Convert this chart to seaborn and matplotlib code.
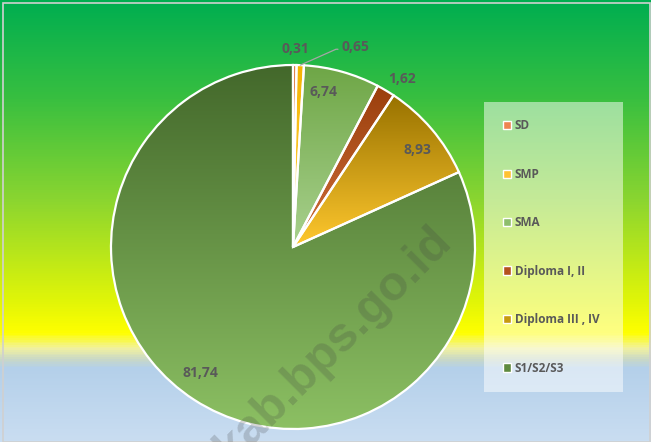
import numpy as np
import matplotlib
matplotlib.use('Agg')
import matplotlib.pyplot as plt
import seaborn as sns
from matplotlib.patches import Patch, Rectangle
from matplotlib.colors import LinearSegmentedColormap

# data
categories = ['SD', 'SMP', 'SMA', 'Diploma I, II', 'Diploma III , IV', 'S1/S2/S3']
values = [0.31, 0.65, 6.74, 1.62, 8.93, 81.74]
value_labels = ['0,31', '0,65', '6,74', '1,62', '8,93', '81,74']

# gradient colours per slice (top -> bottom)
slice_top = ['#D9641C', '#F5B400', '#6EA646', '#9A3E0C', '#987200', '#43682B']
slice_bottom = ['#F4A56E', '#FFD54F', '#A9D18E', '#D0703A', '#FFC82E', '#8CC063']
legend_colors = ['#EE8450', '#FFC232', '#8DBE6C', '#B4521E', '#C79A10', '#5E8A3E']

sns.set_theme(style='white')
plt.rcParams['font.family'] = ['Open Sans', 'DejaVu Sans']

W, H = 651, 442
fig = plt.figure(figsize=(W / 100, H / 100), dpi=100)

# background gradient
bg = fig.add_axes([0, 0, 1, 1])
bg_cmap = LinearSegmentedColormap.from_list('bg', [
    (0.0, '#00AE50'), (0.22, '#38BF40'), (0.45, '#8AD530'), (0.68, '#E0F508'),
    (0.755, '#FFFF00'), (0.79, '#F2F2A0'), (0.815, '#C8D8C8'), (0.835, '#B4D0EA'),
    (1.0, '#C9DDF1')])
bg.imshow(np.linspace(0, 1, 442).reshape(-1, 1), cmap=bg_cmap, aspect='auto',
          extent=[0, 1, 0, 1], origin='upper')
bg.add_patch(Rectangle((0.005, 0.0), 0.994, 0.993, fill=False, edgecolor='#D0D0D0',
                       linewidth=1.2, transform=bg.transAxes))
bg.set_xlim(0, 1)
bg.set_ylim(0, 1)
bg.axis('off')

# pie
cx, cy, r = 293, 247, 182
ax = fig.add_axes([(cx - r) / W, (H - cy - r) / H, 2 * r / W, 2 * r / H])
wedges, _ = ax.pie(values, startangle=90, counterclock=False, radius=1,
                   wedgeprops=dict(facecolor='none', edgecolor='white', linewidth=1.6, zorder=3))
for w, c0, c1 in zip(wedges, slice_top, slice_bottom):
    bb = w.get_path().get_extents()
    cm = sns.blend_palette([c0, c1], as_cmap=True)
    im = ax.imshow(np.linspace(0, 1, 256).reshape(-1, 1), cmap=cm, aspect='auto',
                   extent=[bb.x0, bb.x1, bb.y0, bb.y1], origin='upper', zorder=2)
    im.set_clip_path(w)
ax.set_xlim(-1, 1)
ax.set_ylim(-1, 1)
ax.set_aspect('equal')
ax.axis('off')

# data labels
label_r = [1.09, 1.15, 0.87, 1.1, 0.87, 0.86]
label_dang = [0, -15, 4.5, -2.4, -2.4, -3.6]
lab_kw = dict(fontsize=10, fontweight='bold', color='#595959', ha='center', va='center')
for i, w in enumerate(wedges):
    mid = (w.theta1 + w.theta2) / 2
    a = np.deg2rad(mid + label_dang[i])
    x, y = label_r[i] * np.cos(a), label_r[i] * np.sin(a)
    if i == 1:
        am = np.deg2rad(mid)
        ax.annotate(value_labels[i], xy=(np.cos(am), np.sin(am)), xytext=(x, y),
                    arrowprops=dict(arrowstyle='-', color='#A6A6A6', lw=0.9,
                                    connectionstyle='angle,angleA=0,angleB=24,rad=0',
                                    shrinkA=0, shrinkB=0, relpos=(0, 0.35)),
                    annotation_clip=False, **lab_kw)
    else:
        ax.text(x, y, value_labels[i], **lab_kw)

# legend
bg.add_patch(Rectangle((484 / W, 1 - 392 / H), 139 / W, 290 / H, facecolor='white',
                       alpha=0.5, edgecolor='none', zorder=1))
handles = [Patch(facecolor=c, edgecolor='white', linewidth=1.0) for c in legend_colors]
leg = fig.legend(handles, categories, loc='upper left', bbox_to_anchor=(503 / W, 1 - 119.5 / H),
                 frameon=False, fontsize=8.5, labelspacing=3.0, handlelength=0.7,
                 handleheight=0.7, handletextpad=0.3, borderpad=0, borderaxespad=0)
for t in leg.get_texts():
    t.set_color('#595959')
    t.set_fontweight('bold')

# watermark
fig.text(334 / W, 1 - 344 / H, 'kab.bps.go.id', rotation=45, ha='center', va='center',
         fontsize=35, fontweight='bold', color='#404040', alpha=0.22,
         family='Liberation Sans', zorder=10)

fig.savefig('out.png', dpi=100)
